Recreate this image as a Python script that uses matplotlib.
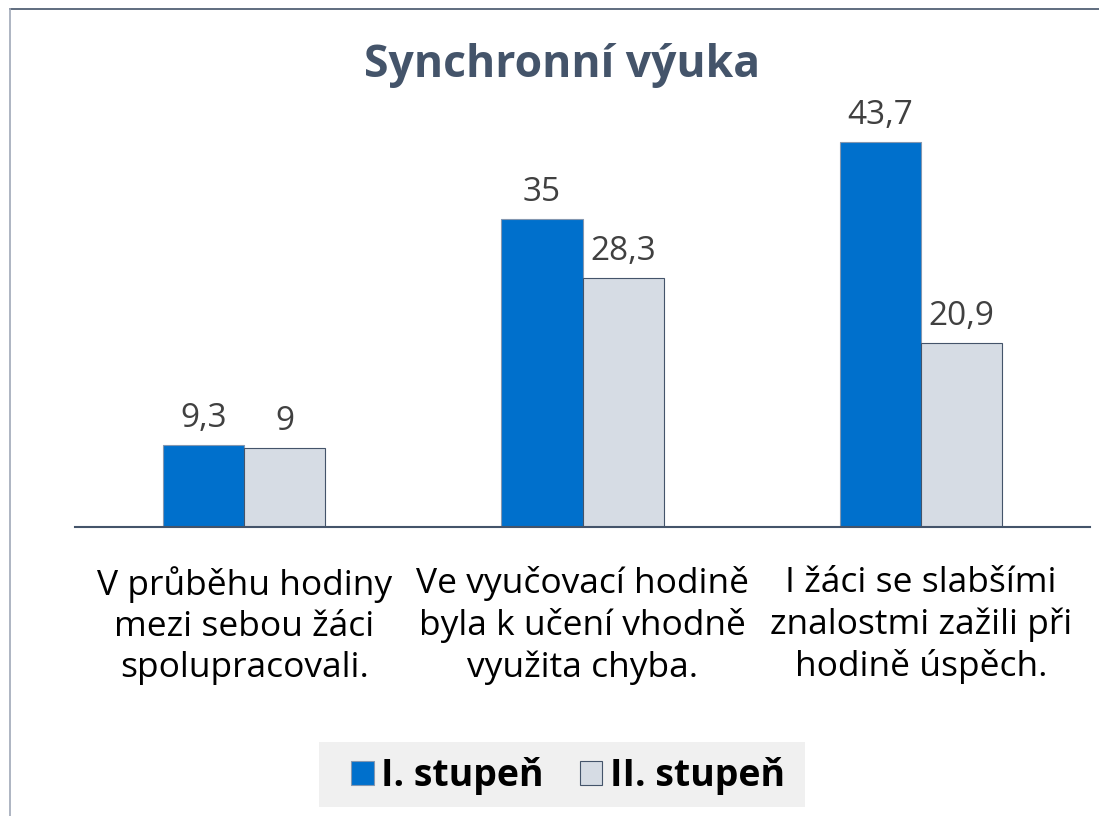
import numpy as np
from matplotlib import pyplot as plt
from matplotlib.lines import Line2D
from matplotlib.patches import Rectangle

categories = ['V průběhu hodiny\nmezi sebou žáci\nspolupracovali.',
              'Ve vyučovací hodině\nbyla k učení vhodně\nvyužita chyba.',
              'I žáci se slabšími\nznalostmi zažili při\nhodině úspěch.']
stupen_1 = [9.3, 35, 43.7]
stupen_2 = [9, 28.3, 20.9]
series_names = ['I. stupeň', 'II. stupeň']

plt.rcParams['font.family'] = ['Open Sans', 'DejaVu Sans']

W, H = 1099, 816
fig = plt.figure(figsize=(W / 100, H / 100), dpi=100)
# axes placed in pixel terms: x 75..1090, y 86..527 (top-down)
ax = fig.add_axes([75 / W, 1 - 527 / H, (1090 - 75) / W, (527 - 86.5) / H])

x = np.arange(len(categories))
w = 0.24
b1 = ax.bar(x - w / 2, stupen_1, w, color='#0070CC', edgecolor='#8497B0', linewidth=0.8)
b2 = ax.bar(x + w / 2, stupen_2, w, color='#D6DCE4', edgecolor='#44546A', linewidth=0.8)

for bars in (b1, b2):
    for r in bars:
        v = r.get_height()
        ax.annotate(f'{v:g}'.replace('.', ','), (r.get_x() + r.get_width() / 2, v),
                    xytext=(0, 7), textcoords='offset points', ha='center', va='bottom',
                    fontsize=24, color='#404040')

ax.set_xlim(-0.5, 2.5)
ax.set_ylim(0, 50)
ax.set_yticks([])
ax.set_xticks(x)
ax.set_xticklabels(categories, fontsize=25.5, color='#000000', linespacing=1.28)
ax.tick_params(axis='x', length=0, pad=28)
for s in ['top', 'right', 'left']:
    ax.spines[s].set_visible(False)
ax.spines['bottom'].set_color('#44546A')
ax.spines['bottom'].set_linewidth(1.5)

fig.text(562 / W, 1 - 66 / H, 'Synchronní výuka', ha='center', va='center',
         fontsize=32, fontweight='bold', color='#44546A')

# legend background box
fig.add_artist(Rectangle((319 / W, 1 - 807 / H), (805 - 319) / W, 65 / H,
                         transform=fig.transFigure, facecolor='#F0F0F0', edgecolor='none', zorder=0))
leg = fig.legend([b1, b2], series_names, loc='center', bbox_to_anchor=(568 / W, 1 - 776 / H),
                 ncol=2, frameon=False, prop={'size': 27, 'weight': 'bold'},
                 handlelength=0.6, handleheight=0.6, handletextpad=0.2, columnspacing=0.95,
                 borderpad=0, borderaxespad=0)

# chart frame, cropped at right and bottom
fig.add_artist(Line2D([10 / W, 1], [1 - 9 / H, 1 - 9 / H], color='#44546A', linewidth=1.2))
fig.add_artist(Line2D([10 / W, 10 / W], [0, 1 - 9 / H], color='#A0A8B8', linewidth=1.2))

fig.savefig('out.png', dpi=100)
